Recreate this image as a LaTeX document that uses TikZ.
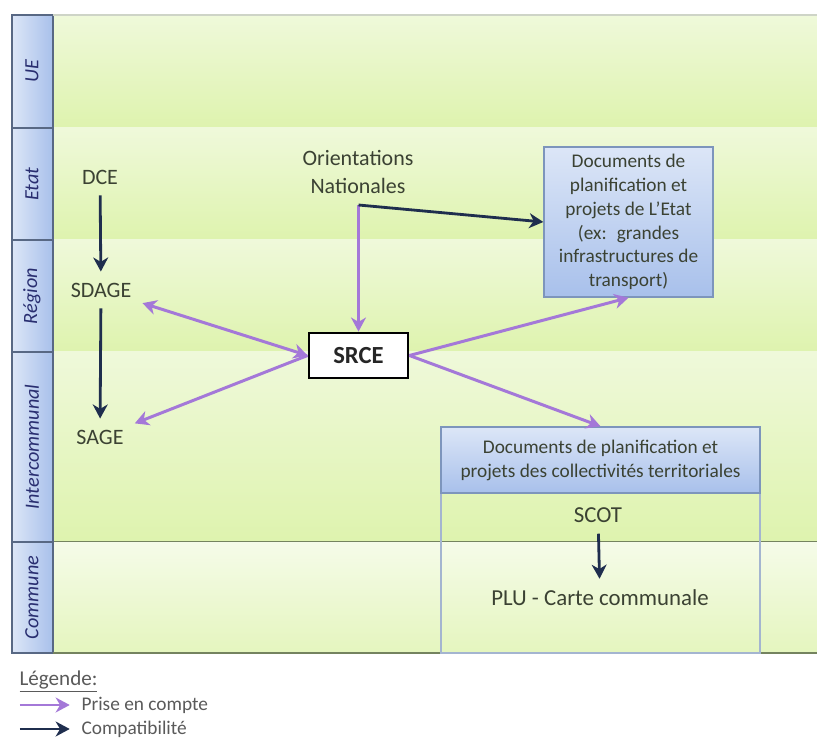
\documentclass[tikz,border=0pt]{standalone}
\usepackage{fontspec}
\setmainfont{Carlito}
\usepackage{tikz}
\usetikzlibrary{arrows,arrows.meta,shadings,positioning}
\definecolor{violetPC}{HTML}{A478D8}
\definecolor{bleuC}{HTML}{1F2E4E}
\definecolor{bordVert}{HTML}{74835F}
\definecolor{vertClair}{HTML}{EFF9DA}
\definecolor{vertFonce}{HTML}{DEF3AE}
\definecolor{bleuClair}{HTML}{DCE6F7}
\definecolor{bleuFonce}{HTML}{A8C0EB}
\definecolor{bordBleu}{HTML}{7D95BC}
\definecolor{texte}{HTML}{3B4233}
\definecolor{gris}{HTML}{5A5A5A}

\tikzstyle{prise} = [->,>={Stealth[length=8pt,width=8.5pt,inset=2.5pt]},line width=1.7pt,color=violetPC]
\tikzstyle{compat} = [->,>={Stealth[length=8pt,width=8.5pt,inset=2.5pt]},line width=1.6pt,color=bleuC]
\tikzstyle{doc} = [draw=bordBleu,line width=0.8pt,top color=bleuClair,bottom color=bleuFonce,text=texte,font=\fontsize{11}{13.6}\selectfont,align=center]
\tikzstyle{niveau} = [text=texte,inner sep=6pt,font=\fontsize{12.5}{15.5}\selectfont]
\tikzstyle{echelon} = [rotate=90,text=texte!70!blue,font=\itshape\fontsize{11.5}{13}\selectfont]
\tikzstyle{legendetxt} = [anchor=west,text=gris,font=\fontsize{11}{13}\selectfont]

\begin{document}
\begin{tikzpicture}[thick]
	\useasboundingbox (0,0) rectangle (16.34,14.86);
	\fill[white] (0,0) rectangle (16.34,14.86);

	% les bandes horizontales
	\foreach \nom/\haut/\bas/\clair/\fonce [count=\i] in
		{UE/14.56/12.30/vertClair/vertFonce,
		 Etat/12.30/10.06/vertClair/vertFonce,
		 Région/10.06/7.82/vertClair/vertFonce,
		 Intercommunal/7.82/4.02/vertClair/vertFonce,
		 Commune/4.02/1.80/vertClair!60!white/vertFonce!80!white}
	{
		\shade[top color=\clair,bottom color=\fonce] (1.06,\bas) rectangle (16.34,\haut);
		\shade[left color=bleuClair,right color=bleuFonce] (0.24,\bas) rectangle (1.06,\haut);
		\draw[line width=1pt,color=bordBleu!70!black] (0.24,\bas) rectangle (1.06,\haut);
		\draw[line width=1.2pt,color=bordVert] (1.06,\bas) -- (16.34,\bas);
		\node[echelon] (ech\i) at (0.64,{(\haut+\bas)/2}) {\nom};
	}
	\draw[line width=1pt,color=bordVert!35!white] (1.06,14.56) -- (16.34,14.56);

	\node[niveau] (dce) at (2.0,11.32) {DCE};
	\node[niveau] (sdage) at (2.02,9.06) {SDAGE};
	\node[niveau] (sage) at (2.0,6.12) {SAGE};

	\node[niveau,inner sep=2pt,align=center] (orient) at (7.16,11.42) {Orientations\\Nationales};
	\coordinate (coude) at (7.17,10.76);

	\node[doc,minimum width=3.38cm,minimum height=3cm,inner sep=2pt] (etat) at (12.57,10.42)
		{Documents de\\planification et\\projets de L'Etat\\(ex:~ grandes\\infrastructures de\\transport)};

	\node[draw,line width=1.6pt,fill=white,text=black!85,font=\bfseries\fontsize{14}{16}\selectfont,
		minimum width=1.98cm,minimum height=0.9cm] (srce) at (7.17,7.75) {SRCE};

	% cadre des collectivites
	\draw[line width=0.8pt,color=bordBleu!70!white] (8.82,1.8) rectangle (15.2,5.0);
	\node[doc,minimum width=6.38cm,minimum height=1.32cm] (coll) at (12.01,5.66)
		{Documents de planification et\\projets des collectivités territoriales};
	\node[niveau,font=\fontsize{13}{15}\selectfont] (scot) at (11.96,4.56) {SCOT};
	\node[niveau,font=\fontsize{13}{15}\selectfont] (plu) at (12.0,2.9) {PLU - Carte communale};

	% compatibilite
	\draw[compat] (dce) -- (sdage);
	\draw[compat] (sdage) -- (sage);
	\draw[compat] (scot) -- (plu);

	% prise en compte
	\draw[prise] (coude) -- (srce.north);
	\draw[compat] (coude) -- (etat.west);
	\draw[prise,<->] (sdage) -- (srce.west);
	\draw[prise] (srce.west) -- (sage);
	\draw[prise] (srce.east) -- (etat.south);
	\draw[prise] (srce.east) -- (coll.north);

	% legende
	\node[legendetxt,font=\fontsize{12}{14}\selectfont] (legende) at (0.26,1.22) {\underline{Légende:}};
	\coordinate (lp) at (0.4,0.76);
	\coordinate (lc) at (0.4,0.28);
	\node[legendetxt] (lprise) at (1.5,0.76) {Prise en compte};
	\node[legendetxt] (lcompat) at (1.5,0.28) {Compatibilité};
	\draw[prise,shorten >=3pt] (lp) -- (lprise.west);
	\draw[compat,shorten >=3pt] (lc) -- (lcompat.west);
\end{tikzpicture}
\end{document}
